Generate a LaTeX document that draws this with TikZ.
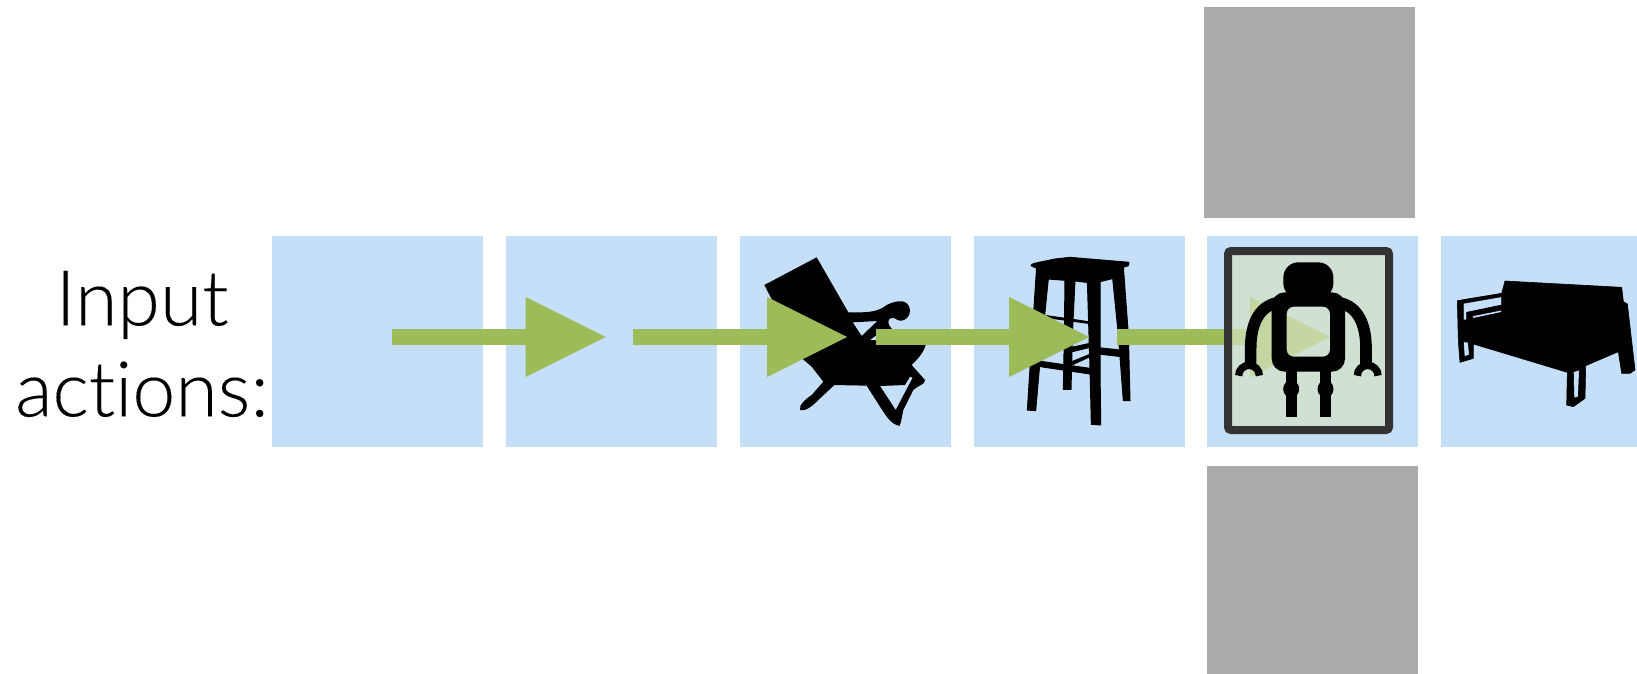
\documentclass[tikz,border=0pt]{standalone}
\usepackage{fontspec}
\setmainfont{Lato Light}[Ligatures=NoCommon,FakeBold=0.12]
\usetikzlibrary{arrows.meta}
\definecolor{cellblue}{HTML}{C5DFF9}
\definecolor{wallgray}{HTML}{AAAAAA}
\definecolor{arrowgreen}{HTML}{9DBB58}
\definecolor{framegray}{HTML}{333333}
\definecolor{veil}{RGB}{213,227,196}
\tikzset{
  cell/.style={fill=cellblue,draw=none,inner sep=0pt,outer sep=0pt,minimum width=105.5pt,minimum height=105.5pt,anchor=north west},
  wall/.style={fill=wallgray,draw=none,inner sep=0pt,outer sep=0pt,minimum width=105.5pt,minimum height=105.5pt,anchor=north west},
  action/.style={draw=arrowgreen,line width=8pt,-{Triangle[length=40pt,width=40pt,line width=0pt]},color=arrowgreen},
  zoomed/.style={x=0.166667pt,y=-0.166667pt},
  ink/.style={fill=black,draw=black,line width=0.5pt,line join=round,even odd rule},
  solidink/.style={fill=black,draw=none,even odd rule}
}
\begin{document}
\begin{tikzpicture}[x=0.5pt,y=-0.5pt]
\useasboundingbox (0,0) rectangle (1637,674);
\fill[white] (0,0) rectangle (1637,674);
% cells
\node[cell] (c1) at (272,236) {};
\node[cell] (c2) at (506,236) {};
\node[cell] (c3) at (740,236) {};
\node[cell] (c4) at (974,236) {};
\node[cell] (c5) at (1207,236) {};
\fill[cellblue] (1441,236) rectangle (1637,447);
\node[wall] (w1) at (1204,7) {};
\node[wall,minimum height=104pt] (w2) at (1207,466) {};
% label
\node[align=center,inner sep=0pt,font=\fontsize{38.5}{45.5}\selectfont] (label) at (142,344) {Input\\actions:};
% chair
\begin{scope}[shift={(740,235)},zoomed]
\path[solidink] (73,150) -- (230,67) -- (325,232) .. controls (370,232) and (410,235) .. (440,210)
 .. controls (470,195) and (505,190) .. (510,225) .. controls (510,255) and (480,265) .. (465,250)
 .. controls (450,245) and (440,255) .. (447,270) -- (465,295) -- (557,330)
 .. controls (550,355) and (530,375) .. (515,390) -- (555,435) .. controls (555,450) and (535,450) .. (520,465)
 -- (490,525) .. controls (485,545) and (485,560) .. (478,573) .. controls (450,565) and (440,545) .. (420,515)
 -- (380,452) -- (283,450) -- (235,495) .. controls (215,515) and (195,530) .. (180,525)
 .. controls (175,510) and (200,490) .. (215,480) -- (250,440) -- (215,395) -- (188,372) -- cycle
 (338,262) -- (412,258) -- (365,303) -- cycle
 (420,453) -- (495,450) -- (510,425) -- (518,428) -- (467,525) -- cycle
 (390,315) -- (410,300) -- (412,316) -- cycle;
\end{scope}
% stool
\begin{scope}[shift={(975,235)},zoomed]
\path[ink] (168,92) .. controls (170,85) and (180,85) .. (240,72) -- (285,67) -- (462,82) -- (460,92) -- (445,97)
 -- (415,130) -- (375,140) -- (335,142) -- (300,138) -- (218,132) -- (185,100) -- cycle;
\path[ink] (185,95) -- (220,130) -- (193,400) -- (182,527) -- (157,525) -- (165,400) -- cycle;
\path[ink] (270,130) -- (300,135) -- (292,300) -- (288,463) -- (265,463) -- (268,300) -- cycle;
\path[ink] (337,135) -- (375,135) -- (375,400) -- (377,570) -- (349,568) -- (345,400) -- cycle;
\path[ink] (445,95) -- (413,130) -- (430,300) -- (445,497) -- (465,497) -- (460,300) -- cycle;
\path[ink] (215,242) -- (340,260) -- (340,265) -- (215,248) -- cycle;
\path[ink] (370,338) -- (435,345) -- (440,365) -- (370,357) -- cycle;
\path[ink] (190,378) -- (345,400) -- (345,417) -- (190,394) -- cycle;
\path[ink] (285,382) -- (345,358) -- (345,365) -- (290,390) -- cycle;
\path[ink] (290,337) -- (345,325) -- (345,337) -- (292,350) -- cycle;
\end{scope}
% sofa
\begin{scope}[shift={(1430,235)},zoomed]
\path[ink,line width=0.3pt] (225,138) -- (575,157) -- (580,200) -- (592,207) -- (615,405) -- (600,415) -- (575,415) -- (565,350)
 -- (467,392) -- (465,490) -- (430,515) -- (410,510) -- (412,412) -- (130,327) -- (130,370) -- (90,382)
 -- (85,320) -- (82,197) -- (215,175) -- cycle
 (100,205) -- (215,185) -- (215,210) -- (110,232) -- (110,255) -- (100,255) -- cycle
 (125,243) -- (215,225) -- (215,232) -- (130,250) -- cycle
 (100,320) -- (115,322) -- (118,360) -- (103,365) -- cycle
 (430,410) -- (448,405) -- (445,485) -- (432,490) -- cycle;
\end{scope}
% arrows
\coordinate (a1s) at (391.5,337); \coordinate (a1e) at (605.5,337);
\coordinate (a2s) at (633,337);   \coordinate (a2e) at (847,337);
\coordinate (a3s) at (876,337);   \coordinate (a3e) at (1089,337);
\coordinate (a4s) at (1117,337);  \coordinate (a4e) at (1330,337);
\draw[action] (a1s) -- (a1e);
\draw[action] (a2s) -- (a2e);
\draw[action] (a3s) -- (a3e);
\draw[action] (a4s) -- (a4e);
% agent frame
\draw[draw=framegray,line width=4pt,rounded corners=1.5pt,fill=veil,fill opacity=0.7,draw opacity=1] (1228,251) rectangle (1389,430);
% robot
\begin{scope}[shift={(1200,235)},zoomed]
\path[solidink,rounded corners=7.5pt] (250,190) -- (250,82) -- (400,82) -- (400,190) -- cycle;
\path[solidink,rounded corners=6.5pt] (215,172) rectangle (435,410) [rounded corners=3.5pt] (260,215) rectangle (390,365);
\draw[line width=5.8pt] (232,203) .. controls (175,215) and (152,270) .. (152,340) -- (152,390);
\draw[line width=5.8pt] (418,203) .. controls (475,215) and (498,270) .. (498,340) -- (498,390);
\draw[line width=3.7pt] (116,422) arc (180:360:31);
\draw[line width=3.7pt] (472,422) arc (180:360:31);
\fill (257,405) rectangle (290,545);
\fill (360,405) rectangle (393,545);
\fill (273.5,462) ellipse (24 and 26);
\fill (376.5,462) ellipse (24 and 26);
\end{scope}
\end{tikzpicture}
\end{document}
